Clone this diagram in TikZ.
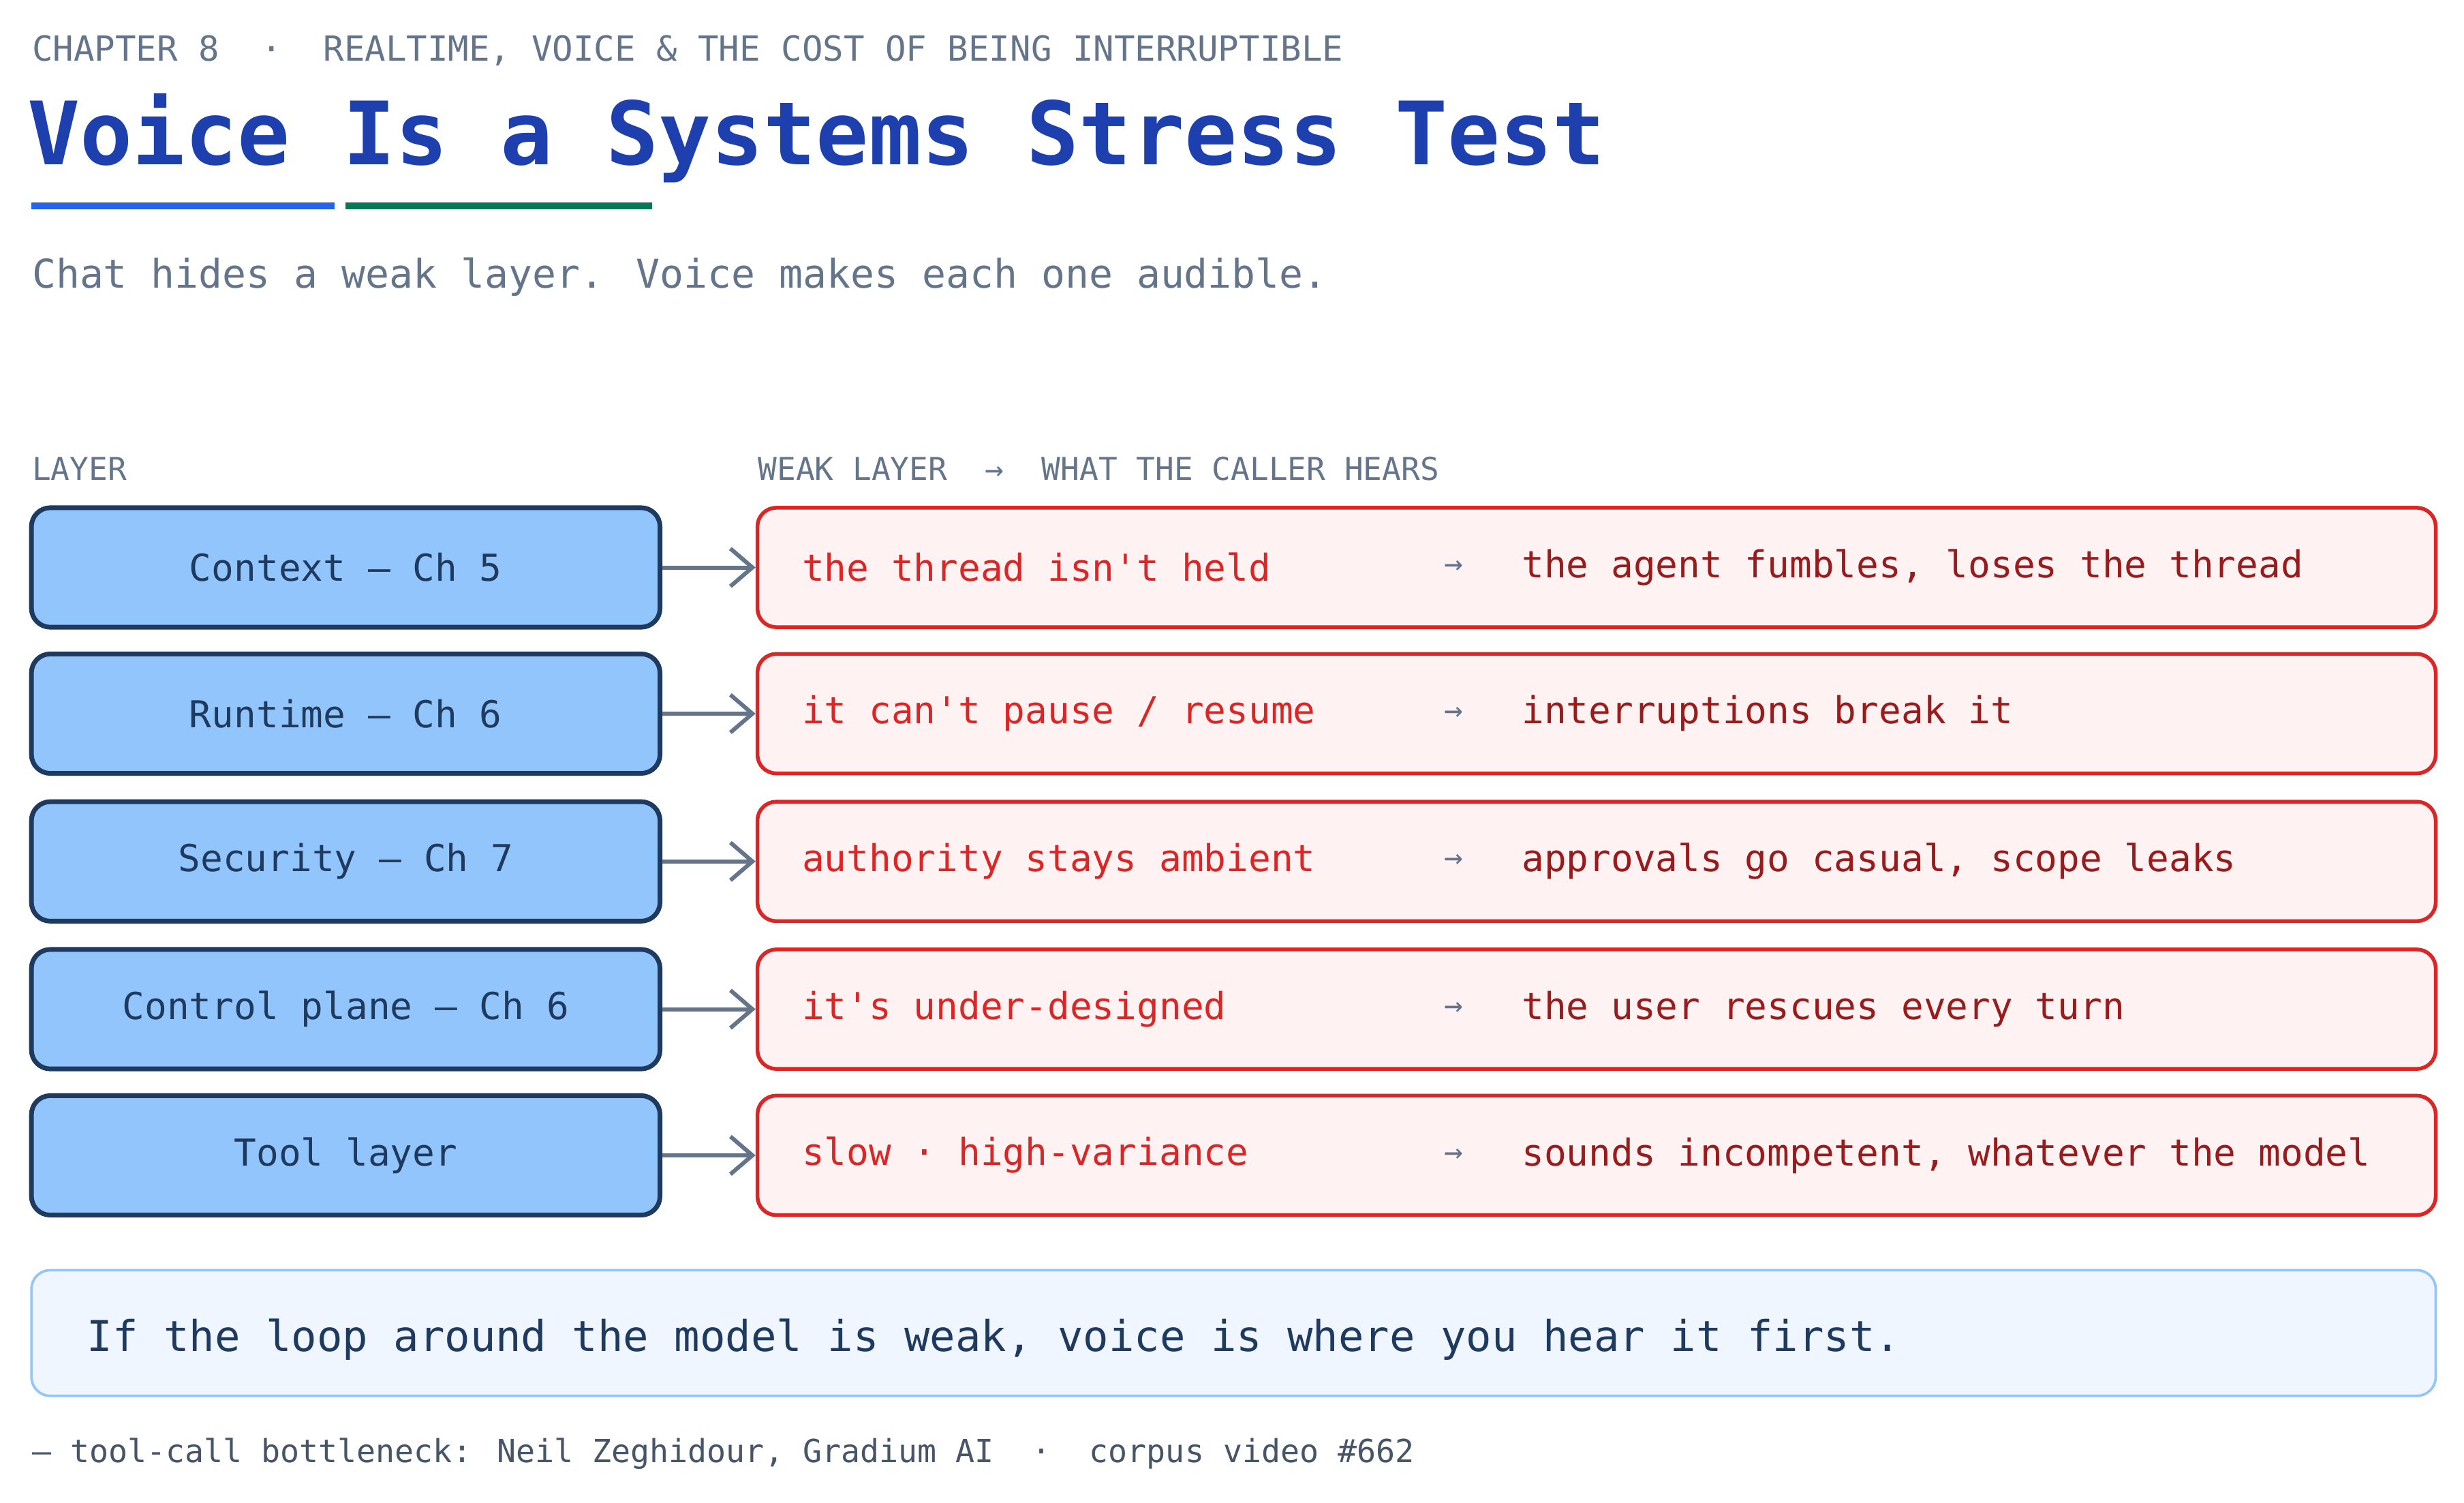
\documentclass[tikz,border=0pt]{standalone}
\usepackage{fontspec}
\setmainfont{DejaVu Sans Mono}[Ligatures=TeXOff]
\usetikzlibrary{arrows.meta}
\definecolor{titleblue}{HTML}{1E40AF}
\definecolor{ulblue}{HTML}{2563EB}
\definecolor{ulgreen}{HTML}{047857}
\definecolor{slate}{HTML}{64748B}
\definecolor{slatedk}{HTML}{475569}
\definecolor{navy}{HTML}{1E3A5F}
\definecolor{layerfill}{HTML}{93C5FD}
\definecolor{redline}{HTML}{DC2626}
\definecolor{redfill}{HTML}{FEF2F2}
\definecolor{reddk}{HTML}{991B1B}
\definecolor{notefill}{HTML}{EFF6FF}
\tikzset{
  layer/.style={draw=navy,line width=1.5pt,fill=layerfill,rounded corners=6pt,minimum width=200pt,minimum height=38pt,text=navy,font=\fontsize{11.8}{14}\selectfont},
  weak/.style={draw=redline,line width=1.2pt,fill=redfill,rounded corners=6pt,minimum width=534pt,minimum height=38pt},
  cause/.style={anchor=west,text=redline,font=\fontsize{11.8}{14}\selectfont,inner sep=0pt},
  effect/.style={anchor=west,text=reddk,font=\fontsize{11.8}{14}\selectfont,inner sep=0pt},
  sep/.style={text=slate,font=\fontsize{10}{12}\selectfont,inner sep=0pt},
  feed/.style={draw=slate,line width=1.3pt,-{Straight Barb[length=7pt,width=12pt]}},
  label/.style={anchor=west,text=slate,inner sep=0pt,font=\fontsize{10}{12}\selectfont}
}
\begin{document}
\begin{tikzpicture}[x=0.5pt,y=0.5pt,yscale=-1]
    \useasboundingbox (0,0) rectangle (1568,956);

    % header
    \node[label,font=\fontsize{11}{13}\selectfont] (chapter) at (20,32) {CHAPTER 8 \ · \ REALTIME, VOICE \& THE COST OF BEING INTERRUPTIBLE};
    \node[anchor=west,inner sep=0pt,text=titleblue,font=\fontsize{27.8}{32}\selectfont\bfseries] (title) at (17,88) {Voice Is a Systems Stress Test};
    \draw[ulblue,line width=2pt] (20,131) -- (213,131);
    \draw[ulgreen,line width=2pt] (220,131) -- (415,131);
    \node[label,font=\fontsize{12.6}{15}\selectfont] (subtitle) at (20,176) {Chat hides a weak layer. Voice makes each one audible.};

    % column captions
    \node[label] (layercap) at (20,298) {LAYER};
    \node[label] (weakcap) at (482,298) {WEAK LAYER \ → \ WHAT THE CALLER HEARS};

    % rows
    \foreach \i/\y/\name/\why/\what in {
      1/361/Context — Ch 5/the thread isn't held/the agent fumbles{,} loses the thread,
      2/454/Runtime — Ch 6/{it can't pause / resume}/interruptions break it,
      3/548/Security — Ch 7/authority stays ambient/approvals go casual{,} scope leaks,
      4/642/Control plane — Ch 6/it's under-designed/the user rescues every turn,
      5/735/Tool layer/slow · high-variance/sounds incompetent{,} whatever the model}{
      \node[layer] (layer\i) at (220,\y) {\name};
      \node[weak] (weak\i) at (1016,\y) {};
      \node[cause] (cause\i) at (510,\y) {\why};
      \node[sep] (sep\i) at (925,\y) {→};
      \node[effect] (effect\i) at (968,\y) {\what};
      \draw[feed] (layer\i.east) -- (weak\i.west);
    }

    % takeaway
    \node[draw=layerfill,line width=0.8pt,fill=notefill,rounded corners=6pt,minimum width=765pt,minimum height=40pt] (note) at (785,848) {};
    \node[anchor=west,inner sep=0pt,text=navy,font=\fontsize{13.5}{16}\selectfont] (notetext) at (55,852) {If the loop around the model is weak, voice is where you hear it first.};

    % source
    \node[label,text=slatedk,font=\fontsize{10.1}{12}\selectfont] (source) at (20,925) {— tool-call bottleneck: Neil Zeghidour, Gradium AI \ · \ corpus video \#662};
\end{tikzpicture}
\end{document}
